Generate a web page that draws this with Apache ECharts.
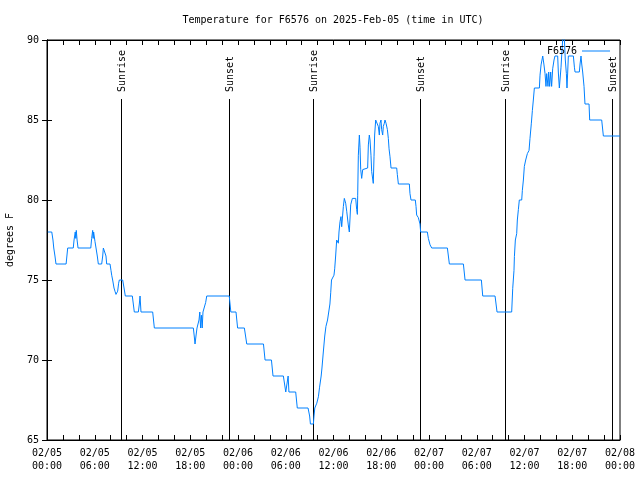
<!DOCTYPE html>
<html>
<head>
<meta charset="utf-8">
<script src="https://cdn.jsdelivr.net/npm/echarts@6/dist/echarts.min.js"></script>
<style>html,body{margin:0;padding:0;background:#fff}#c{width:640px;height:480px}</style>
</head>
<body>
<div id="c"></div>
<script>
// Hours since 2025-02-05 00:00 UTC
var xTickLabels = ['02/05\n00:00','02/05\n06:00','02/05\n12:00','02/05\n18:00',
  '02/06\n00:00','02/06\n06:00','02/06\n12:00','02/06\n18:00',
  '02/07\n00:00','02/07\n06:00','02/07\n12:00','02/07\n18:00','02/08\n00:00'];
var yTicks = [65, 70, 75, 80, 85, 90];

var eventHours = [9.30, 22.91, 33.46, 46.91, 57.59, 71.03];
var eventLabels = ['Sunrise','Sunset','Sunrise','Sunset','Sunrise','Sunset'];

var tempHours = [
  0.1,0.6,0.75,0.85,1.0,1.13,2.4,2.5,2.6,3.3,3.4,3.55,3.62,3.68,3.78,3.9,
  5.5,5.61,5.74,5.8,5.86,6.03,6.16,6.32,6.45,6.87,7.0,7.08,7.29,7.41,7.5,7.92,
  8.04,8.13,8.25,8.42,8.54,8.67,8.75,8.88,9.0,9.09,9.51,9.68,9.84,10.72,10.97,
  11.48,11.6,11.69,11.81,13.28,13.49,18.39,
  18.5,18.6,18.72,18.85,19.0,19.1,19.2,19.3,19.4,19.5,19.6,19.8,19.94,20.07,
  22.9,23.0,23.1,23.75,23.95,24.8,25.1,27.2,27.4,28.2,28.4,29.7,29.85,30.0,
  30.15,30.3,30.4,31.25,31.45,32.8,33.0,33.1,33.47,
  33.55,33.65,33.9,34.1,34.25,34.45,34.55,34.72,34.9,35.05,35.25,35.4,35.55,
  35.65,35.75,35.98,36.06,36.15,36.27,36.4,36.61,36.69,36.82,36.94,37.03,37.24,
  37.36,37.53,37.66,37.86,37.99,38.16,38.37,38.79,38.91,39.0,39.04,39.12,39.25,
  39.33,39.42,39.54,39.67,39.75,40.29,40.38,40.5,40.59,40.71,40.8,41.0,41.09,
  41.17,41.3,41.55,41.63,41.76,41.84,41.97,42.05,42.18,42.26,42.39,42.47,42.6,
  42.77,42.89,42.98,43.1,43.23,43.94,44.02,44.15,45.53,45.61,45.74,46.28,46.37,
  46.45,46.66,46.87,46.95,47.79,47.92,48.13,48.34,50.31,50.56,
  52.32,52.53,54.58,54.75,56.3,56.55,58.39,
  58.52,58.68,58.73,58.85,59.02,59.1,59.23,59.35,59.65,59.73,59.86,59.98,60.15,
  60.36,60.57,60.69,60.86,60.99,61.11,61.24,61.87,61.95,62.08,62.29,62.45,62.58,
  62.7,62.79,62.87,62.95,63.04,63.16,63.29,63.41,63.54,63.71,63.83,64.17,64.25,
  64.38,64.46,64.59,64.67,64.8,64.92,65.05,65.13,65.26,65.34,65.43,65.51,66.14,
  66.27,66.35,66.89,66.98,67.1,67.19,67.31,67.48,67.6,68.11,68.19,68.36,69.7,
  69.91,72.0
];
var tempValues = [
  78,78,77.5,77,76.5,76,76,76.5,77,77,77.5,78,77.6,78.1,77.5,77,
  77,77.6,78.1,77.6,78,77.4,77,76.5,76,76,76.5,77,77,76.5,76,76,
  75.6,75.3,75,74.5,74.3,74.1,74,74.3,74.8,75,75,74.5,74,74,73,
  73,73.5,74,73,73,72,72,
  71.5,71,71.5,72,72,72.5,73,72,72.8,72,73,73,73.6,74,
  74,73.5,73,73,72,72,71,71,70,70,69,69,68.5,68,
  68.5,69,68,68,67,67,66.5,66,66,
  66.5,67,67.3,67.7,68.3,69,69.5,70.5,71.5,72.1,72.5,73,73.5,
  74.2,75,75,75.3,75.7,76.5,77.5,77.3,78,78.65,78.96,78.33,79.6,
  80.1,79.8,79.3,78.44,78,79.7,80.1,80.1,79.4,79.1,80.3,82.8,84.06,
  83.3,81.9,81.35,81.9,82,82,83.44,84.06,83.75,82.8,81.77,81.04,82.7,
  84.06,85,85,84.6,84.06,84.8,85,84.4,84.06,84.6,84.8,85,84.8,
  84.4,83.85,83.2,82.7,82,82,81.6,81,81,80.4,80,80,79.6,
  79.06,78.9,78.5,78,78,77.6,77.2,77,77,76,
  76,75,75,74,74,73,73,
  74.48,75.6,76.46,77.5,77.9,78.75,79.4,80,80,80.6,81.25,82.1,82.5,
  82.9,83.1,83.85,84.8,85.6,86.25,87,87,87.8,88.44,89,88.44,87.9,
  87.1,87.9,88,87.1,88,87.1,88,87.1,88.2,88.75,89,89,88,
  87,87.5,88.3,89,89,91,91,88.75,87.9,87,88,89,89,
  88.3,88,88,88.5,89,88.5,88,87.1,86,86,85,85,85,
  84,84
];

var FONT = 'DejaVu Sans Mono';
var LINE_COLOR = '#0080ff';
var tempData = tempHours.map(function (h, i) { return [h, tempValues[i]]; });
var eventData = eventHours.map(function (h) { return [h, yTicks[0]]; });

var chart = echarts.init(document.getElementById('c'), null, {renderer: 'canvas'});
var axisLine = {show: true, lineStyle: {color: '#000', width: 1}};
var tick = {show: true, inside: true, length: 5, lineStyle: {color: '#000'}};
var minor = {show: true, splitNumber: 3, length: 5, lineStyle: {color: '#000'}};

chart.setOption({
  animation: false,
  backgroundColor: '#fff',
  title: {
    text: 'Temperature for F6576 on 2025-Feb-05 (time in UTC)',
    left: 333, top: 15, textAlign: 'center', padding: 0,
    textStyle: {fontFamily: FONT, fontSize: 10, fontWeight: 'normal', color: '#000'}
  },
  legend: {
    data: ['F6576'], right: 30, top: 46, align: 'right', padding: 0,
    icon: 'rect', itemWidth: 28, itemHeight: 1,
    textStyle: {fontFamily: FONT, fontSize: 10, color: '#000'}
  },
  grid: {left: 47, right: 20, top: 40, bottom: 40, show: true, borderColor: '#000', borderWidth: 1,
    containLabel: false, outerBoundsMode: 'none'},
  xAxis: [{
    type: 'value', min: 0, max: 72, interval: 6,
    axisLine: axisLine, axisTick: tick, minorTick: minor, splitLine: {show: false},
    axisLabel: {
      margin: 7, fontFamily: FONT, fontSize: 10, color: '#000', lineHeight: 13,
      formatter: function (v) { return xTickLabels[Math.round(v / 6)]; }
    }
  }, {
    type: 'value', position: 'top', min: 0, max: 72, interval: 6,
    axisLine: axisLine, axisTick: tick, minorTick: minor, splitLine: {show: false},
    axisLabel: {show: false}
  }],
  yAxis: [{
    type: 'value', min: yTicks[0], max: yTicks[yTicks.length - 1], interval: 5,
    name: 'degrees F', nameLocation: 'middle', nameRotate: 90, nameGap: 32,
    nameTextStyle: {fontFamily: FONT, fontSize: 10, color: '#000'},
    axisLine: axisLine, axisTick: tick, splitLine: {show: false},
    axisLabel: {margin: 8, fontFamily: FONT, fontSize: 10, color: '#000'}
  }, {
    type: 'value', position: 'right', min: yTicks[0], max: yTicks[yTicks.length - 1], interval: 5,
    axisLine: axisLine, axisTick: tick, splitLine: {show: false},
    axisLabel: {show: false}
  }],
  series: [{
    name: 'F6576', type: 'line', data: tempData,
    xAxisIndex: 0, yAxisIndex: 0,
    symbol: 'none', showSymbol: false, clip: true,
    lineStyle: {color: LINE_COLOR, width: 1},
    itemStyle: {color: LINE_COLOR}
  }, {
    name: 'events', type: 'custom', data: eventData,
    xAxisIndex: 0, yAxisIndex: 0, silent: true,
    renderItem: function (params, api) {
      var h = api.value(0);
      var bottom = api.coord([h, yTicks[0]]);
      var top = api.coord([h, yTicks[yTicks.length - 1]]);
      var x = Math.round(bottom[0]) + 0.5;
      return {
        type: 'group',
        children: [{
          type: 'line',
          shape: {x1: x, y1: bottom[1], x2: x, y2: top[1] + 59},
          style: {stroke: '#000', lineWidth: 1}
        }, {
          type: 'text',
          x: x + 1, y: top[1] + 52,
          rotation: Math.PI / 2,
          style: {
            text: eventLabels[params.dataIndex],
            fontFamily: FONT, fontSize: 10, fill: '#000',
            align: 'left', verticalAlign: 'middle'
          }
        }]
      };
    }
  }]
});
</script>
</body>
</html>
